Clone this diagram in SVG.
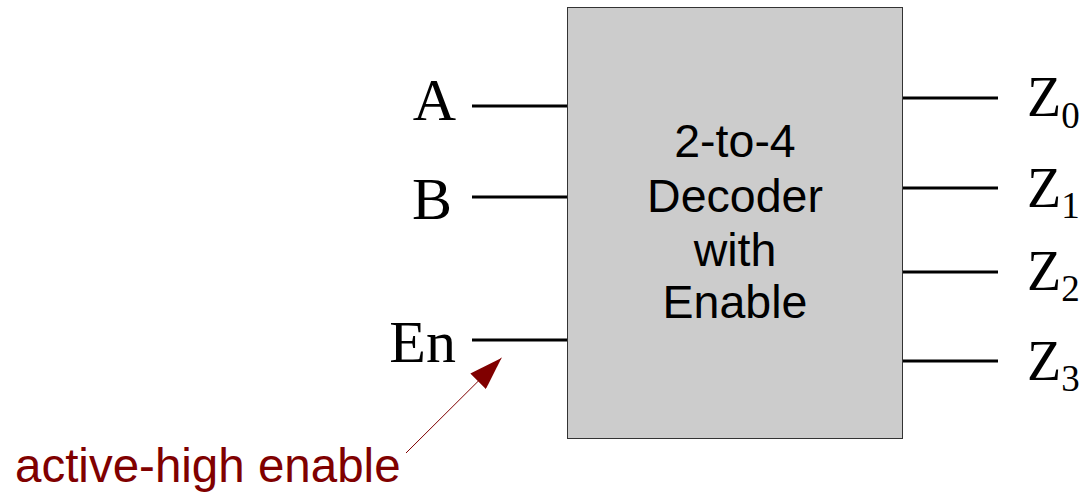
<svg xmlns="http://www.w3.org/2000/svg" width="1083" height="494" viewBox="0 0 1083 494">
  <style>
    .wire { stroke: #000; stroke-width: 3; fill: none; }
    .pin { font-family: "Liberation Serif", "Times New Roman", serif; font-size: 60px; fill: #000; }
    .zpin { font-family: "Liberation Serif", "Times New Roman", serif; font-size: 56px; fill: #000; }
    .sub { font-size: 37px; }
    .title { font-family: "Liberation Sans", Arial, sans-serif; font-size: 46.5px; fill: #000; text-anchor: middle; }
    .note { font-family: "Liberation Sans", Arial, sans-serif; font-size: 47.5px; fill: #800000; }
  </style>
  <defs>
    <marker id="arrowHead" markerUnits="userSpaceOnUse" markerWidth="34" markerHeight="22" refX="33" refY="11" orient="auto">
      <path d="M0,0 L33,11 L0,22 z" fill="#800000"/>
    </marker>
  </defs>

  <!-- decoder block -->
  <g id="decoder">
    <rect x="567.5" y="7.5" width="335" height="431" fill="#cccccc" stroke="#333" stroke-width="1"/>
    <text class="title" x="735" y="157">2-to-4</text>
    <text class="title" x="735" y="212">Decoder</text>
    <text class="title" x="735" y="266">with</text>
    <text class="title" x="735" y="318">Enable</text>
  </g>

  <!-- input pins -->
  <g id="pin-A"><text class="pin" x="456" y="120" text-anchor="end">A</text></g>
  <g id="pin-B"><text class="pin" x="452" y="219" text-anchor="end">B</text></g>
  <g id="pin-En"><text class="pin" x="456" y="362" text-anchor="end">En</text></g>

  <!-- output pins -->
  <g id="pin-Z0"><text class="zpin" x="1027" y="116">Z<tspan class="sub" dy="12">0</tspan></text></g>
  <g id="pin-Z1"><text class="zpin" x="1027" y="207">Z<tspan class="sub" dy="11">1</tspan></text></g>
  <g id="pin-Z2"><text class="zpin" x="1027" y="290">Z<tspan class="sub" dy="11">2</tspan></text></g>
  <g id="pin-Z3"><text class="zpin" x="1027" y="380">Z<tspan class="sub" dy="11">3</tspan></text></g>

  <!-- annotation -->
  <g id="enable-note">
    <text class="note" x="15" y="482">active-high enable</text>
  </g>

  <!-- connectors -->
  <g id="connectors">
    <line class="wire" x1="472" y1="106" x2="567" y2="106"/>
    <line class="wire" x1="472" y1="197" x2="567" y2="197"/>
    <line class="wire" x1="472" y1="340" x2="567" y2="340"/>
    <line class="wire" x1="903" y1="98" x2="998" y2="98"/>
    <line class="wire" x1="903" y1="188" x2="998" y2="188"/>
    <line class="wire" x1="903" y1="272" x2="998" y2="272"/>
    <line class="wire" x1="903" y1="361" x2="998" y2="361"/>
    <line x1="406" y1="453" x2="501.5" y2="358" stroke="#800000" stroke-width="1" marker-end="url(#arrowHead)"/>
  </g>
</svg>
